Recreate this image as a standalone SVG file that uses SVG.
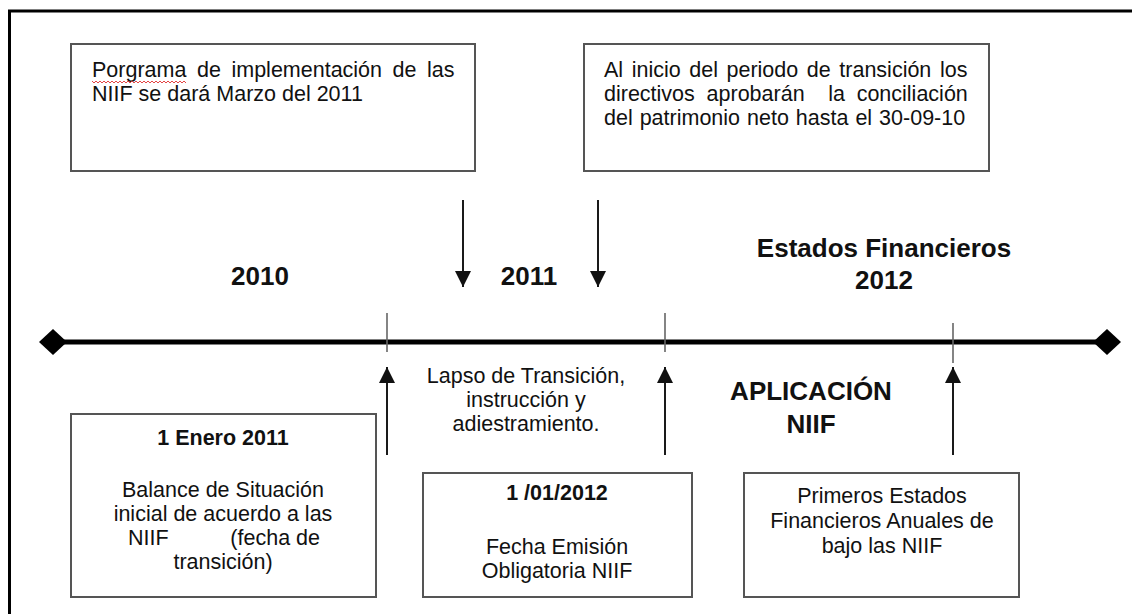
<svg xmlns="http://www.w3.org/2000/svg" width="1132" height="614" viewBox="0 0 1132 614">
<style>
text{font-family:"Liberation Sans",Arial,sans-serif;fill:#111;}
.t{font-size:21.5px;}
.b{font-size:21.5px;font-weight:bold;}
.h{font-size:26px;font-weight:bold;}
.c{text-anchor:middle;}
.box{fill:#fff;stroke:#555;stroke-width:2;}
.arr{stroke:#1a1a1a;stroke-width:2;fill:none;}
.tick{stroke:#666;stroke-width:1.6;}
</style>
<defs>
<marker id="ah" viewBox="0 0 16 16" markerWidth="16" markerHeight="16" markerUnits="userSpaceOnUse" refX="16" refY="8" orient="auto">
<path d="M0,0 L16,8 L0,16 z" fill="#111"/>
</marker>
</defs>
<rect x="0" y="0" width="1132" height="614" fill="#fff"/>
<path d="M9.5,614 V11 H1132" fill="none" stroke="#000" stroke-width="3"/>

<g id="timeline">
<line x1="52" y1="342" x2="1107" y2="342" stroke="#000" stroke-width="5"/>
<polygon points="39,342 53,329 67,342 53,355" fill="#000"/>
<polygon points="1093,342 1107,329 1121,342 1107,355" fill="#000"/>
<line class="tick" x1="387" y1="313" x2="387" y2="352"/>
<line class="tick" x1="665" y1="313" x2="665" y2="352"/>
<line class="tick" x1="953" y1="323" x2="953" y2="363"/>
</g>

<g id="connectors">
<line class="arr" x1="463" y1="200" x2="463" y2="287" marker-end="url(#ah)"/>
<line class="arr" x1="598" y1="200" x2="598" y2="287" marker-end="url(#ah)"/>
<line class="arr" x1="387" y1="455" x2="387" y2="367" marker-end="url(#ah)"/>
<line class="arr" x1="665" y1="455" x2="665" y2="367" marker-end="url(#ah)"/>
<line class="arr" x1="953" y1="455" x2="953" y2="367" marker-end="url(#ah)"/>
</g>

<g id="box-programa">
<rect class="box" x="71" y="44" width="404" height="127"/>
<text class="t" x="92" y="77" word-spacing="4.6">Porgrama de implementación de las</text>
<text class="t" x="92" y="101">NIIF se dará Marzo del 2011</text>
<path d="M92,81 l2,2 l2,-2 l2,2 l2,-2 l2,2 l2,-2 l2,2 l2,-2 l2,2 l2,-2 l2,2 l2,-2 l2,2 l2,-2 l2,2 l2,-2 l2,2 l2,-2 l2,2 l2,-2 l2,2 l2,-2 l2,2 l2,-2 l2,2 l2,-2 l2,2 l2,-2 l2,2 l2,-2 l2,2 l2,-2 l2,2 l2,-2 l2,2 l2,-2 l2,2 l2,-2 l2,2 l2,-2 l2,2 l2,-2 l2,2 l2,-2 l2,2 l2,-2 l2,2" fill="none" stroke="#e03030" stroke-width="0.9"/>
</g>

<g id="box-inicio">
<rect class="box" x="584" y="44" width="405" height="127"/>
<text class="t" x="604" y="77" word-spacing="2.6">Al inicio del periodo de transición los</text>
<text class="t" x="604" y="101" word-spacing="5.8" xml:space="preserve">directivos aprobarán  la conciliación</text>
<text class="t" x="604" y="125" word-spacing="1">del patrimonio neto hasta el 30-09-10</text>
</g>

<g id="years">
<text class="h c" x="260" y="285">2010</text>
<text class="h c" x="529" y="285">2011</text>
<text class="h c" x="884" y="257">Estados Financieros</text>
<text class="h c" x="884" y="289">2012</text>
</g>

<g id="lapso">
<text class="t c" x="526" y="383">Lapso de Transición,</text>
<text class="t c" x="526" y="407">instrucción y</text>
<text class="t c" x="526" y="431">adiestramiento.</text>
</g>

<g id="aplicacion">
<text class="h c" x="811" y="400">APLICACIÓN</text>
<text class="h c" x="811" y="433">NIIF</text>
</g>

<g id="box-enero">
<rect class="box" x="71" y="414" width="305" height="183"/>
<text class="b c" x="223" y="445">1 Enero 2011</text>
<text class="t c" x="223" y="497">Balance de Situación</text>
<text class="t c" x="223" y="521">inicial de acuerdo a las</text>
<text class="t" y="545"><tspan x="128">NIIF</tspan><tspan x="320" text-anchor="end">(fecha de</tspan></text>
<text class="t c" x="223" y="569">transición)</text>
</g>

<g id="box-2012">
<rect class="box" x="423" y="473" width="269" height="124"/>
<text class="b c" x="557" y="500">1 /01/2012</text>
<text class="t c" x="557" y="554">Fecha Emisión</text>
<text class="t c" x="557" y="578">Obligatoria NIIF</text>
</g>

<g id="box-primeros">
<rect class="box" x="744" y="473" width="275" height="124"/>
<text class="t c" x="882" y="503">Primeros Estados</text>
<text class="t c" x="882" y="528">Financieros Anuales de</text>
<text class="t c" x="882" y="553">bajo las NIIF</text>
</g>
</svg>
